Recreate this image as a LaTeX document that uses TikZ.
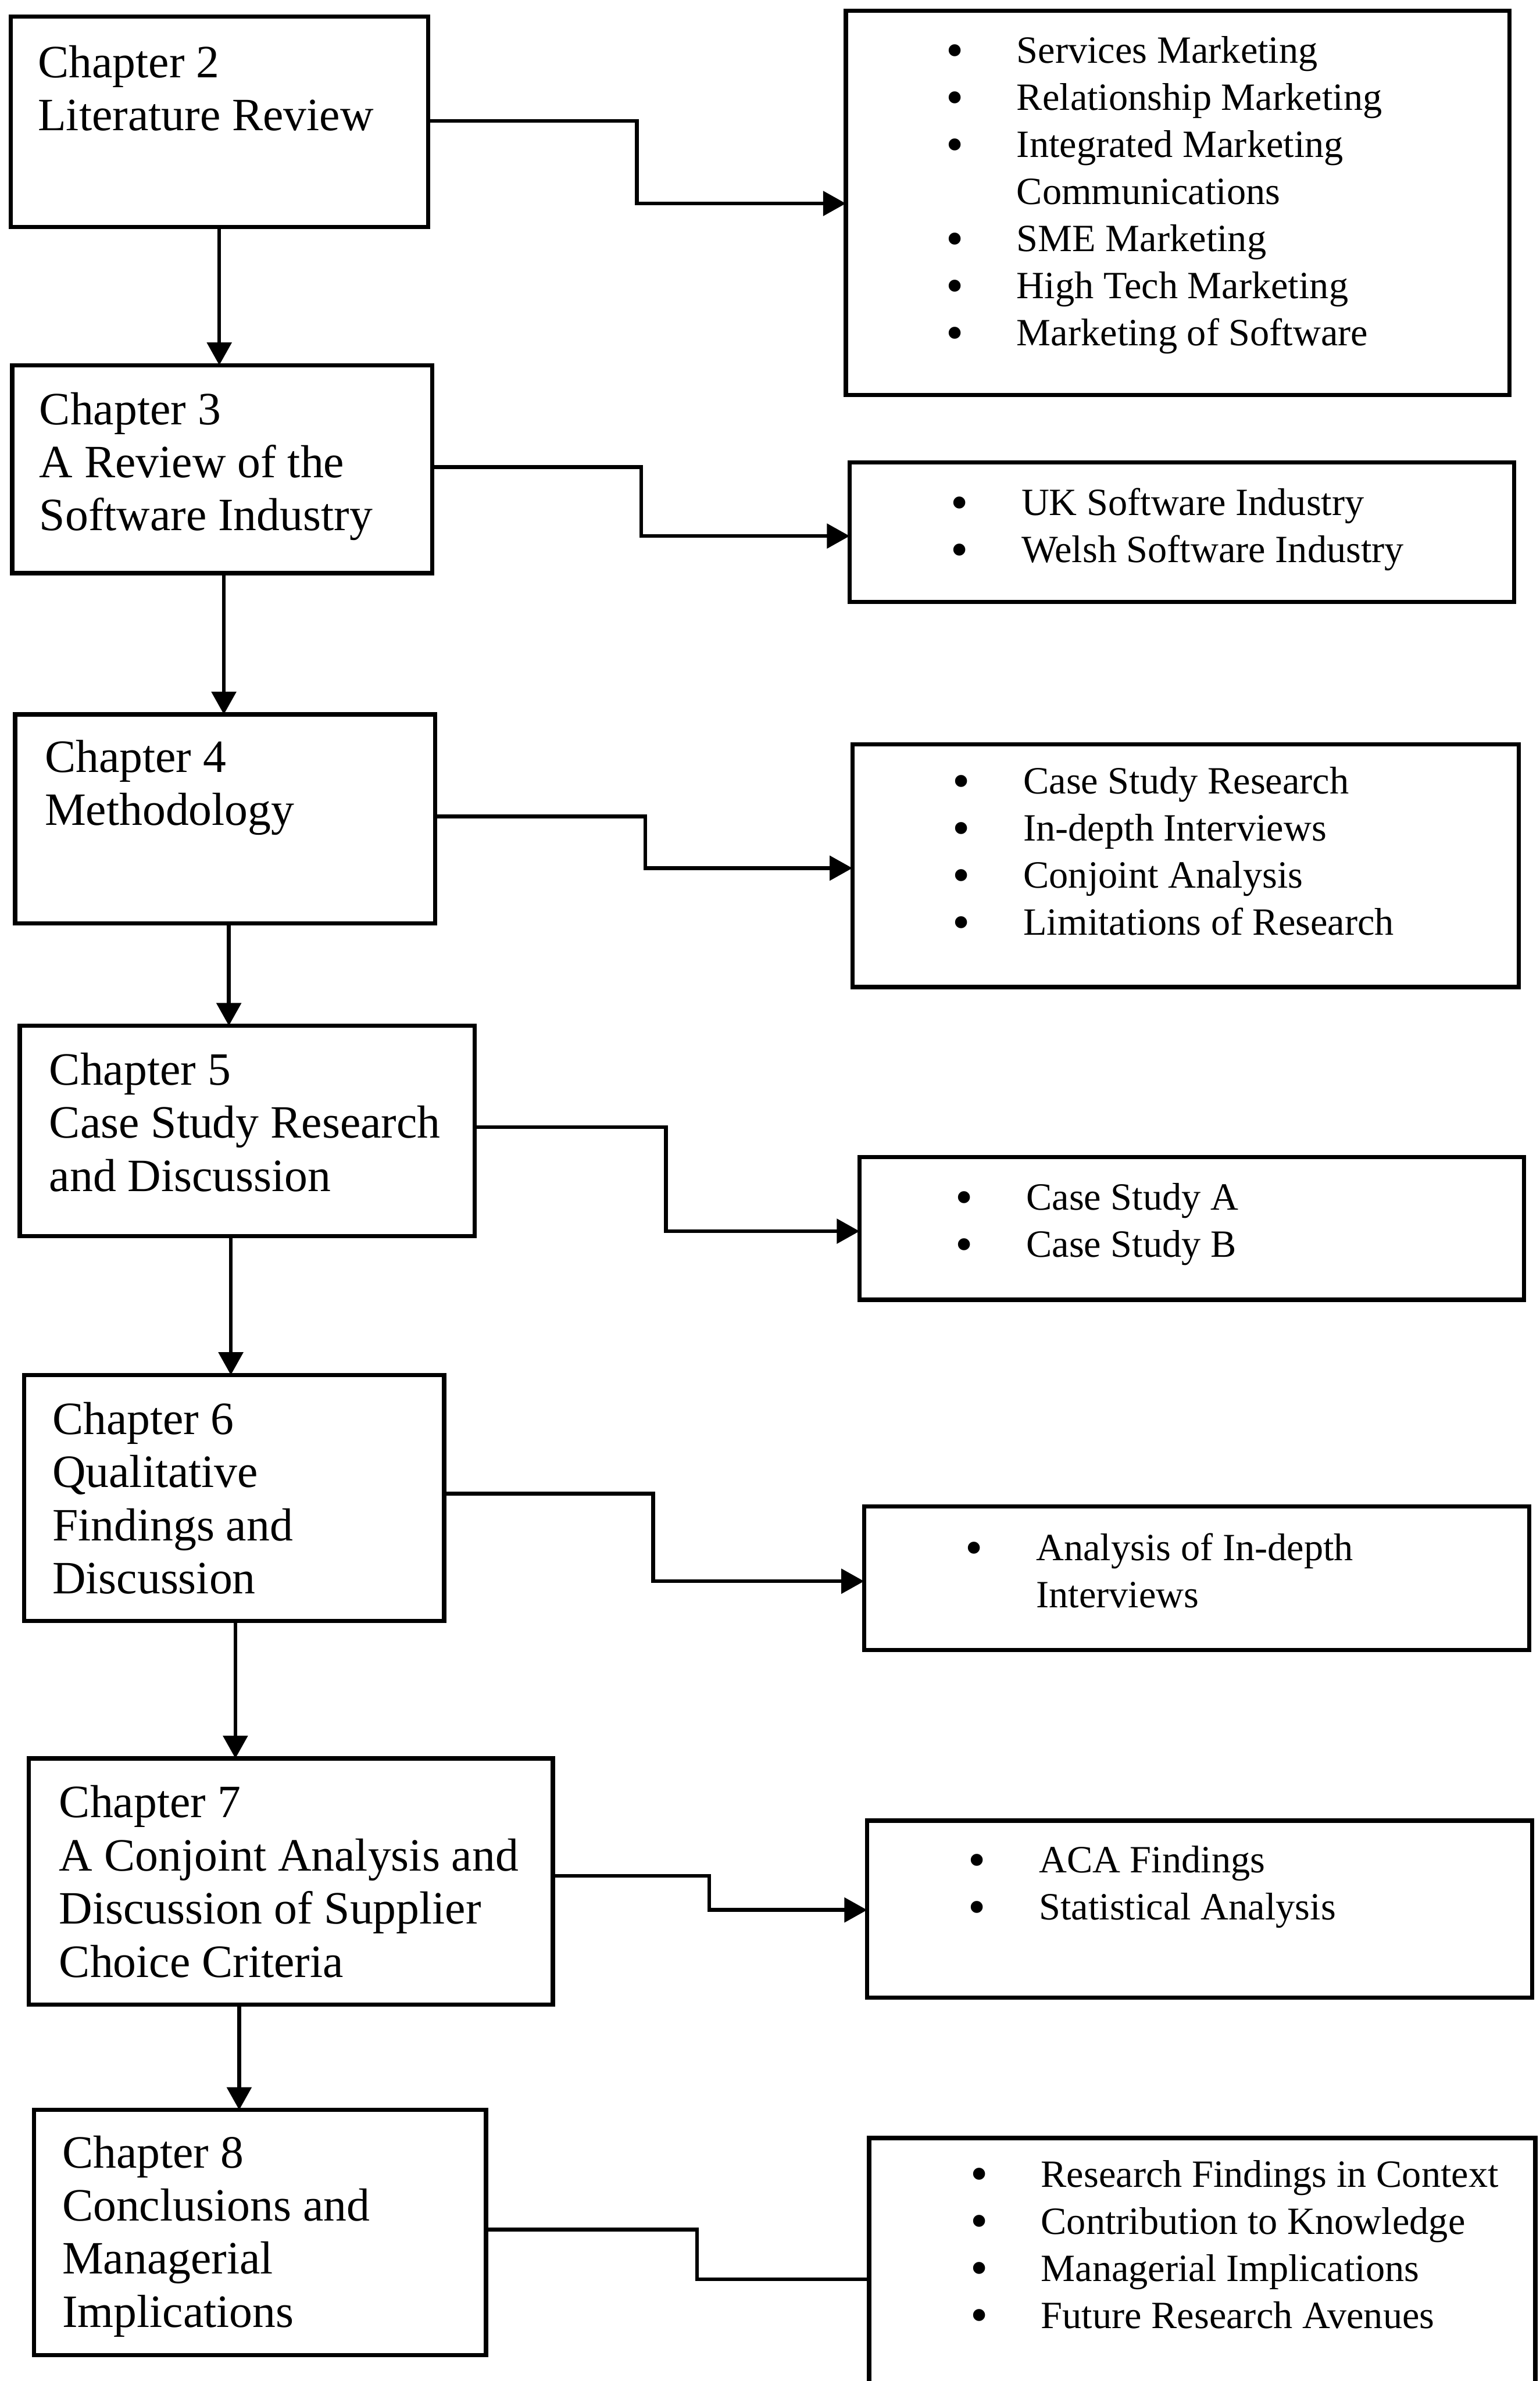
\documentclass[tikz,border=0pt]{standalone}
\usepackage{fontspec}
\setmainfont{Liberation Serif}
\usetikzlibrary{arrows.meta}

% chapter titles on the left, bullet lists on the right
\newcommand\chaplines[1]{\fontsize{30.5}{35}\selectfont\begin{tabular}[t]{@{}l@{}}#1\end{tabular}}
\newcommand\bul{\raisebox{-2.5pt}{\scalebox{1.3}{\textbullet}}}
\newcommand\topiclines[1]{\fontsize{25.4}{31}\selectfont\begin{tabular}[t]{@{}p{46.5pt}@{}l@{}}#1\end{tabular}}

\tikzset{
  frame/.style={draw, line width=2.8pt, inner sep=0pt, outer sep=0pt, anchor=north west},
  words/.style={anchor=base west, inner sep=0pt, outer sep=0pt},
  link/.style={line width=2.5pt},
  arrowto/.style={link, -{Triangle[length=15pt,width=16pt]}},
}

\begin{document}
\begin{tikzpicture}[x=1pt, y=-1pt]
\useasboundingbox (0,0) rectangle (1014,1568);

% ---- chapter boxes ----
\node[frame, minimum width=275pt,   minimum height=138.5pt] (c2) at (7,11) {};
\node[frame, minimum width=276.5pt, minimum height=137pt]   (c3) at (8,240.5) {};
\node[frame, minimum width=276.5pt, minimum height=137.5pt] (c4) at (10,470.5) {};
\node[frame, minimum width=299.5pt, minimum height=138.5pt] (c5) at (13,675.5) {};
\node[frame, minimum width=276.5pt, minimum height=162pt]   (c6) at (16,905.5) {};
\node[frame, minimum width=345pt,   minimum height=162pt]   (c7) at (19,1158) {};
\node[frame, minimum width=297.5pt, minimum height=161.5pt] (c8) at (22.5,1389.5) {};

\node[words] (c2t) at (25,51)     {\chaplines{Chapter 2\\Literature Review}};
\node[words] (c3t) at (26,279.5)  {\chaplines{Chapter 3\\A Review of the\\Software Industry}};
\node[words] (c4t) at (29.5,508.5){\chaplines{Chapter 4\\Methodology}};
\node[words] (c5t) at (32.5,714.5){\chaplines{Chapter 5\\Case Study Research\\and Discussion}};
\node[words] (c6t) at (34.5,944.5){\chaplines{Chapter 6\\Qualitative\\Findings and\\Discussion}};
\node[words] (c7t) at (39,1197)   {\chaplines{Chapter 7\\A Conjoint Analysis and\\Discussion of Supplier\\Choice Criteria}};
\node[words] (c8t) at (41,1427.5) {\chaplines{Chapter 8\\Conclusions and\\Managerial\\Implications}};

% ---- topic boxes ----
\node[frame, minimum width=437pt,   minimum height=253pt]   (r2) at (557,7) {};
\node[frame, minimum width=437.5pt, minimum height=92pt]    (r3) at (559.5,304.5) {};
\node[frame, minimum width=438.7pt, minimum height=159.7pt] (r4) at (561.3,490.3) {};
\node[frame, minimum width=437.5pt, minimum height=94pt]    (r5) at (566,762) {};
\node[frame, minimum width=438pt,   minimum height=94.5pt]  (r6) at (569,992) {};
\node[frame, minimum width=438pt,   minimum height=116.5pt] (r7) at (571,1199) {};
\node[frame, minimum width=438.7pt, minimum height=167pt]   (r8) at (572.3,1408) {};

\node[words] (r2t) at (623,41.6)   {\topiclines{\bul & Services Marketing\\ \bul & Relationship Marketing\\ \bul & Integrated Marketing\\ & Communications\\ \bul & SME Marketing\\ \bul & High Tech Marketing\\ \bul & Marketing of Software}};
\node[words] (r3t) at (626.1,339.5) {\topiclines{\bul & UK Software Industry\\ \bul & Welsh Software Industry}};
\node[words] (r4t) at (627.4,522.8) {\topiclines{\bul & Case Study Research\\ \bul & In-depth Interviews\\ \bul & Conjoint Analysis\\ \bul & Limitations of Research}};
\node[words] (r5t) at (629.3,797)   {\topiclines{\bul & Case Study A\\ \bul & Case Study B}};
\node[words] (r6t) at (635.8,1027.8){\topiclines{\bul & Analysis of In-depth\\ & Interviews}};
\node[words] (r7t) at (637.7,1233.3){\topiclines{\bul & ACA Findings\\ \bul & Statistical Analysis}};
\node[words] (r8t) at (639,1440.2)  {\topiclines{\bul & Research Findings in Context\\ \bul & Contribution to Knowledge\\ \bul & Managerial Implications\\ \bul & Future Research Avenues}};

% ---- bends of the side connectors ----
\coordinate (k2a) at (419.4,79.7);   \coordinate (k2b) at (419.4,134);
\coordinate (k3a) at (422.3,307.5);  \coordinate (k3b) at (422.3,353);
\coordinate (k4a) at (424.9,537.6);  \coordinate (k4b) at (424.9,571.7);
\coordinate (k5a) at (438.5,742.3);  \coordinate (k5b) at (438.5,810.8);
\coordinate (k6a) at (430,983.6);    \coordinate (k6b) at (430,1041.3);
\coordinate (k7a) at (467,1235.4);   \coordinate (k7b) at (467,1257.8);
\coordinate (k8a) at (459,1468.3);   \coordinate (k8b) at (459,1501);

\draw[arrowto] (k2a -| c2.east) -- (k2a) -- (k2b) -- (k2b -| r2.west);
\draw[arrowto] (k3a -| c3.east) -- (k3a) -- (k3b) -- (k3b -| r3.west);
\draw[arrowto] (k4a -| c4.east) -- (k4a) -- (k4b) -- (k4b -| r4.west);
\draw[arrowto] (k5a -| c5.east) -- (k5a) -- (k5b) -- (k5b -| r5.west);
\draw[arrowto] (k6a -| c6.east) -- (k6a) -- (k6b) -- (k6b -| r6.west);
\draw[arrowto] (k7a -| c7.east) -- (k7a) -- (k7b) -- (k7b -| r7.west);
\draw[link]    (k8a -| c8.east) -- (k8a) -- (k8b) -- (k8b -| r8.west);

% ---- chapter to chapter ----
\coordinate (v23) at (144.4,0);
\coordinate (v34) at (147.4,0);
\coordinate (v45) at (150.7,0);
\coordinate (v56) at (152,0);
\coordinate (v67) at (155,0);
\coordinate (v78) at (157.5,0);

\draw[arrowto] (c2.south -| v23) -- (c3.north -| v23);
\draw[arrowto] (c3.south -| v34) -- (c4.north -| v34);
\draw[arrowto] (c4.south -| v45) -- (c5.north -| v45);
\draw[arrowto] (c5.south -| v56) -- (c6.north -| v56);
\draw[arrowto] (c6.south -| v67) -- (c7.north -| v67);
\draw[arrowto] (c7.south -| v78) -- (c8.north -| v78);
\end{tikzpicture}
\end{document}
